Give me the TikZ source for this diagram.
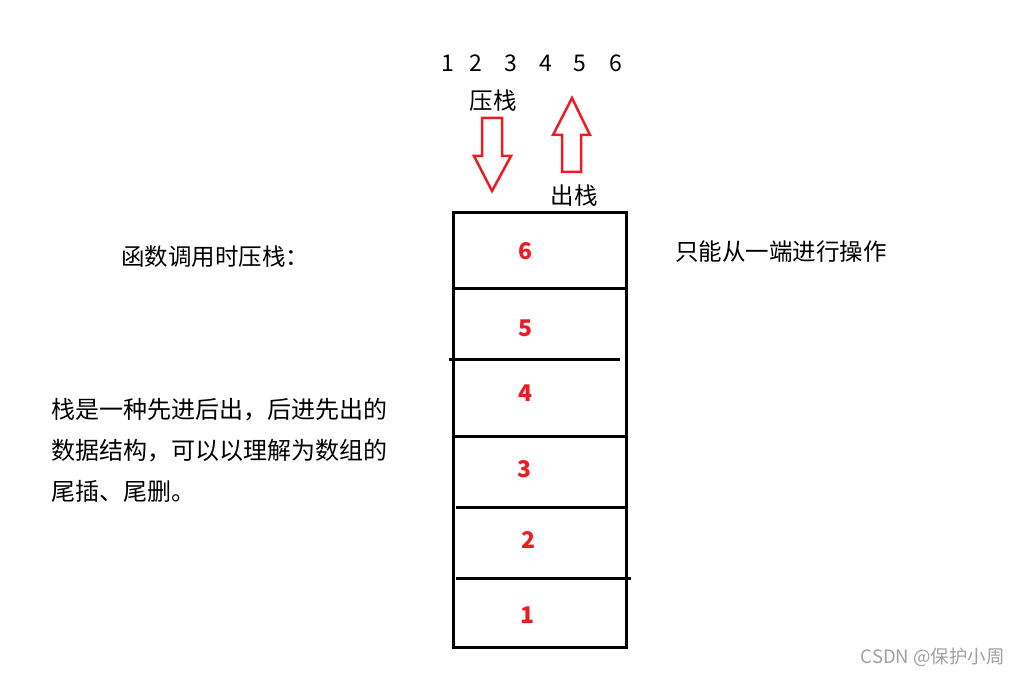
\documentclass[tikz,border=0pt]{standalone}
\usepackage{fontspec}
\setmainfont{Noto Sans CJK SC}
\usepackage{xcolor}
\usetikzlibrary{positioning}
\definecolor{stackred}{RGB}{237, 28, 36}
\definecolor{markgray}{RGB}{160, 160, 160}

\begin{document}
\begin{tikzpicture}[x=1pt, y=-1pt,
    txt/.style={inner sep=0pt, font=\fontsize{23.5}{28}\selectfont},
    num/.style={inner sep=0pt, font=\fontsize{23}{26}\selectfont},
    cellnum/.style={inner sep=0pt, text=stackred, font=\fontsize{23}{26}\selectfont\bfseries},
    wall/.style={line width=3pt},
    bigarrow/.style={draw=stackred, line width=2.5pt, line join=miter}]
        \useasboundingbox (0,0) rectangle (1020,676);

        % Order of elements
        \node[num] (n1) at (448,63) {1};
        \node[num] (n2) at (476,63) {2};
        \node[num] (n3) at (511,63) {3};
        \node[num] (n4) at (546,63) {4};
        \node[num] (n5) at (580,63) {5};
        \node[num] (n6) at (616,63) {6};

        % Push and pop
        \node[txt] (push) at (493,101) {压栈};
        \node[txt] (pop) at (574,196) {出栈};
        \draw[bigarrow] (482,118) -- (502,118) -- (502,156) -- (511,156) -- (492,191)
            -- (474,156) -- (482,156) -- cycle; % down
        \draw[bigarrow] (562,172) -- (581,172) -- (581,135) -- (590,135) -- (572,98)
            -- (553,135) -- (562,135) -- cycle; % up

        % The stack
        \draw[wall] (453,213) rectangle (626,647);
        \draw[wall] (453,289) -- (626,289);
        \draw[wall] (449,359) -- (620,359);
        \draw[wall] (453,436) -- (626,436);
        \draw[wall] (456,507) -- (626,507);
        \draw[wall] (456,578) -- (631,578);
        \node[cellnum] (c6) at (525,251) {6};
        \node[cellnum] (c5) at (525,328) {5};
        \node[cellnum] (c4) at (525,393) {4};
        \node[cellnum] (c3) at (524,469) {3};
        \node[cellnum] (c2) at (528,540) {2};
        \node[cellnum] (c1) at (527,615) {1};

        % Notes
        \node[txt, anchor=west] (call) at (121,257) {函数调用时压栈：};
        \node[txt, anchor=west] (oneend) at (675,252) {只能从一端进行操作};
        \node[txt, anchor=north west, align=left, font=\fontsize{24}{41}\selectfont]
            (about) at (51,398) {栈是一种先进后出，后进先出的\\数据结构，可以以理解为数组的\\尾插、尾删。};

        \node[inner sep=0pt, anchor=east, text=markgray, font=\fontsize{18.5}{22}\selectfont]
            (mark) at (1005,657) {CSDN @保护小周};
    \end{tikzpicture}
\end{document}
